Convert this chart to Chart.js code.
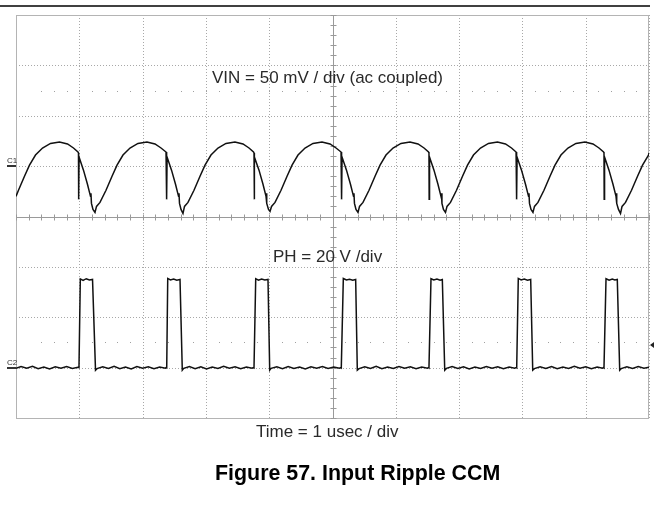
<!DOCTYPE html>
<html><head><meta charset="utf-8">
<script src="https://cdn.jsdelivr.net/npm/chart.js@4.4.1/dist/chart.umd.min.js"></script>
<style>html,body{margin:0;padding:0;background:#fff;}#wrap{width:654px;height:507px;position:relative;}</style>
</head><body><div id="wrap"><canvas id="c" width="654" height="507"></canvas></div>
<script>
// ---- Data ----
// Time in microseconds (1 us / div, 10 divisions)
const vinTimeUs = [
  0, 0.039, 0.134, 0.213, 0.308, 0.419, 0.545, 0.687, 0.814, 0.908, 0.979,
  0.987, 0.990, 0.996, 1.066, 1.129, 1.177, 1.184, 1.192, 1.216,
  1.248, 1.272, 1.327, 1.422, 1.517, 1.596, 1.690, 1.801, 1.927, 2.069, 2.196, 2.291, 2.370,
  2.378, 2.381, 2.387, 2.457, 2.520, 2.568, 2.575, 2.583, 2.607,
  2.638, 2.662, 2.717, 2.812, 2.907, 2.986, 3.080, 3.191, 3.317, 3.459, 3.586, 3.681, 3.752,
  3.760, 3.763, 3.769, 3.839, 3.902, 3.950, 3.957, 3.965, 3.989,
  4.013, 4.037, 4.092, 4.187, 4.282, 4.361, 4.455, 4.566, 4.692, 4.834, 4.961, 5.056, 5.135,
  5.142, 5.145, 5.151, 5.221, 5.284, 5.332, 5.339, 5.347, 5.371,
  5.403, 5.427, 5.482, 5.577, 5.672, 5.751, 5.845, 5.956, 6.082, 6.224, 6.351, 6.446, 6.517,
  6.524, 6.527, 6.533, 6.603, 6.666, 6.714, 6.721, 6.729, 6.753,
  6.785, 6.809, 6.864, 6.959, 7.054, 7.133, 7.227, 7.338, 7.464, 7.606, 7.733, 7.828, 7.900,
  7.907, 7.910, 7.916, 7.986, 8.049, 8.097, 8.104, 8.112, 8.136,
  8.167, 8.191, 8.246, 8.341, 8.436, 8.515, 8.609, 8.720, 8.846, 8.988, 9.115, 9.210, 9.282,
  9.289, 9.292, 9.298, 9.368, 9.431, 9.479, 9.486, 9.494, 9.518,
  9.550, 9.574, 9.629, 9.724, 9.819, 9.898, 9.992, 10.0
];
// VIN ripple in mV (50 mV / div, ac coupled)
const vinMv = [
  -30, -24, -10, 1, 11, 18, 22.5, 24, 22, 18, 14,
  13, -33, 9, -4, -18, -30, -27, -37, -43,
  -46, -40, -36, -24, -10, 1, 11, 18, 22.5, 24, 22, 18, 14,
  13, -33, 9, -4, -18, -30, -27, -37, -43,
  -47, -40, -36, -24, -10, 1, 11, 18, 22.5, 24, 22, 18, 14,
  13, -33, 9, -4, -18, -30, -27, -37, -43,
  -45, -40, -36, -24, -10, 1, 11, 18, 22.5, 24, 22, 18, 14,
  13, -33, 9, -4, -18, -30, -27, -37, -43,
  -46, -40, -36, -24, -10, 1, 11, 18, 22.5, 24, 22, 18, 14,
  13, -33, 9, -4, -18, -30, -27, -37, -43,
  -46, -40, -36, -24, -10, 1, 11, 18, 22.5, 24, 22, 18, 14,
  13, -33, 9, -4, -18, -30, -27, -37, -43,
  -46, -40, -36, -24, -10, 1, 11, 18, 22.5, 24, 22, 18, 14,
  13, -33, 9, -4, -18, -30, -27, -37, -43,
  -47, -40, -36, -24, -10, 1, 11, 13
];
const phTimeUs = [
  0, 0.08, 0.17, 0.26, 0.35, 0.44, 0.53, 0.62, 0.71, 0.80, 0.89, 0.98,
  0.995, 1.016, 1.06, 1.11, 1.16, 1.209, 1.256,
  1.28, 1.37, 1.46, 1.55, 1.64, 1.73, 1.82, 1.91, 2.00, 2.09, 2.18, 2.27, 2.36, 2.375,
  2.381, 2.397, 2.44, 2.49, 2.54, 2.591, 2.627,
  2.65, 2.74, 2.83, 2.92, 3.01, 3.10, 3.19, 3.28, 3.37, 3.46, 3.55, 3.64, 3.73, 3.755,
  3.760, 3.787, 3.83, 3.88, 3.93, 3.981, 4.008,
  4.03, 4.12, 4.21, 4.30, 4.39, 4.48, 4.57, 4.66, 4.75, 4.84, 4.93, 5.02, 5.11, 5.135,
  5.139, 5.171, 5.22, 5.27, 5.32, 5.366, 5.392,
  5.42, 5.51, 5.60, 5.69, 5.78, 5.87, 5.96, 6.05, 6.14, 6.23, 6.32, 6.41, 6.50, 6.52,
  6.524, 6.556, 6.60, 6.65, 6.70, 6.735, 6.773,
  6.80, 6.89, 6.98, 7.07, 7.16, 7.25, 7.34, 7.43, 7.52, 7.61, 7.70, 7.79, 7.88, 7.905,
  7.910, 7.935, 7.98, 8.03, 8.08, 8.131, 8.163,
  8.19, 8.28, 8.37, 8.46, 8.55, 8.64, 8.73, 8.82, 8.91, 9.00, 9.09, 9.18, 9.27, 9.285,
  9.289, 9.321, 9.37, 9.42, 9.46, 9.499, 9.537,
  9.56, 9.65, 9.74, 9.83, 9.92, 10.0
];
// PH switch node in volts (20 V / div)
const phVolts = [
  -0.3, 0.4, -0.2, 0.5, -0.4, 0.2, -0.5, 0.3, -0.2, 0.4, -0.3, 0.1,
  0, 35.2, 34.6, 35.3, 34.8, 35.0, -1.0,
  -0.4, 0.3, -0.3, 0.5, -0.4, 0.2, -0.5, 0.4, -0.2, 0.3, -0.4, 0.2, -0.2, 0.1,
  0, 35.4, 34.8, 35.2, 34.7, 35.0, -1.0,
  -0.3, 0.4, -0.4, 0.3, -0.5, 0.2, -0.3, 0.5, -0.2, 0.3, -0.4, 0.2, -0.2, 0.1,
  0, 35.3, 34.7, 35.2, 34.8, 35.0, -1.0,
  -0.3, 0.3, -0.4, 0.4, -0.3, 0.2, -0.5, 0.3, -0.2, 0.4, -0.3, 0.2, -0.2, 0.1,
  0, 35.4, 34.8, 35.1, 34.7, 35.0, -1.0,
  -0.4, 0.3, -0.3, 0.5, -0.4, 0.2, -0.3, 0.4, -0.2, 0.3, -0.4, 0.2, -0.2, 0.1,
  0, 35.3, 34.8, 35.2, 34.7, 35.0, -1.0,
  -0.3, 0.4, -0.3, 0.3, -0.5, 0.2, -0.3, 0.4, -0.2, 0.3, -0.4, 0.2, -0.2, 0.1,
  0, 35.4, 34.8, 35.2, 34.7, 35.0, -1.0,
  -0.4, 0.3, -0.3, 0.4, -0.4, 0.2, -0.3, 0.5, -0.2, 0.3, -0.4, 0.2, -0.2, 0.1,
  0, 35.3, 34.7, 35.2, 34.8, 35.0, -1.0,
  -0.4, 0.3, -0.3, 0.4, -0.2, 0.2
];
// Screen graticule (divisions)
const timeGridUs = [0,1,2,3,4,5,6,7,8,9,10];
const vinGridMv = [-250,-200,-150,-100,-50,0,50,100,150];
const labels = {
  vin: 'VIN = 50 mV / div (ac coupled)',
  ph: 'PH = 20 V /div',
  time: 'Time = 1 usec / div',
  title: 'Figure 57. Input Ripple CCM'
};

const toPts = (xs, ys) => xs.map((x, i) => ({x, y: ys[i]}));

const scopePlugin = {
  id: 'scope',
  beforeDatasetsDraw(chart) {
    const {ctx, chartArea: a, scales} = chart;
    const xs = scales.x, yv = scales.yVin;
    ctx.save();
    ctx.strokeStyle = '#a8a8a8'; ctx.lineWidth = 1; ctx.setLineDash([1, 2]);
    timeGridUs.forEach(t => {
      const px = Math.round(xs.getPixelForValue(t)) + 0.5;
      ctx.beginPath(); ctx.moveTo(px, a.top); ctx.lineTo(px, a.bottom); ctx.stroke();
    });
    vinGridMv.forEach(v => {
      const py = Math.round(yv.getPixelForValue(v)) + 0.5;
      ctx.beginPath(); ctx.moveTo(a.left, py); ctx.lineTo(a.right, py); ctx.stroke();
    });
    ctx.setLineDash([]);
    ctx.strokeStyle = '#b4b4b4';
    ctx.strokeRect(Math.round(a.left) + 0.5, Math.round(a.top) + 0.5, Math.round(a.right - a.left) - 1, Math.round(a.bottom - a.top));
    const cx = Math.round(xs.getPixelForValue(5)) + 0.5;
    const cy = Math.round(yv.getPixelForValue(-50)) + 0.5;
    ctx.strokeStyle = '#9a9a9a';
    ctx.beginPath(); ctx.moveTo(a.left, cy); ctx.lineTo(a.right, cy); ctx.stroke();
    ctx.beginPath(); ctx.moveTo(cx, a.top); ctx.lineTo(cx, a.bottom); ctx.stroke();
    ctx.beginPath();
    for (let t = 0; t <= 10.001; t += 0.2) {
      const px = Math.round(xs.getPixelForValue(t)) + 0.5;
      ctx.moveTo(px, cy - 3); ctx.lineTo(px, cy + 3);
    }
    for (let v = -250; v <= 150.001; v += 10) {
      const py = Math.round(yv.getPixelForValue(v)) + 0.5;
      ctx.moveTo(cx - 3, py); ctx.lineTo(cx + 3, py);
    }
    ctx.stroke();
    ctx.fillStyle = '#a0a0a0';
    [75, -175].forEach(v => {
      const py = Math.round(yv.getPixelForValue(v));
      for (let t = 0.4; t < 10; t += 0.2) {
        const px = Math.round(xs.getPixelForValue(t));
        if (Math.abs(t - 5) < 0.01) continue;
        ctx.fillRect(px, py, 1, 1);
      }
    });
    ctx.restore();
  },
  afterDraw(chart) {
    const {ctx, scales} = chart;
    ctx.save();
    ctx.strokeStyle = '#000'; ctx.lineWidth = 1.5;
    ctx.beginPath(); ctx.moveTo(0, 6); ctx.lineTo(650, 6); ctx.stroke();
    const c1 = Math.round(scales.yVin.getPixelForValue(0));
    const c2 = Math.round(scales.yPh.getPixelForValue(0));
    ctx.fillStyle = '#333';
    ctx.fillRect(7, c1 - 1, 9, 2);
    ctx.fillRect(7, c2 - 1, 9, 2);
    ctx.font = '8px "Liberation Sans", Arial, sans-serif';
    ctx.textBaseline = 'alphabetic';
    ctx.fillText('C1', 7, c1 - 3);
    ctx.fillText('C2', 7, c2 - 3);
    const tl = scales.yPh.getPixelForValue(9);
    ctx.fillStyle = '#222';
    ctx.beginPath(); ctx.moveTo(650, tl); ctx.lineTo(654, tl - 3); ctx.lineTo(654, tl + 3); ctx.closePath(); ctx.fill();
    ctx.fillStyle = '#2a2a2a';
    ctx.font = '17px "Liberation Sans", Arial, sans-serif';
    ctx.fillText(labels.vin, 212, 83);
    ctx.fillText(labels.ph, 273, 261.5);
    ctx.fillText(labels.time, 256, 437);
    ctx.fillStyle = '#000';
    ctx.font = 'bold 21.4px "Liberation Sans", Arial, sans-serif';
    ctx.fillText(labels.title, 215, 479.5);
    ctx.restore();
  }
};

new Chart(document.getElementById('c'), {
  type: 'scatter',
  data: {
    datasets: [
      {label: 'VIN', data: toPts(vinTimeUs, vinMv), yAxisID: 'yVin', showLine: true,
       borderColor: '#111', borderWidth: 1.5, pointRadius: 0, tension: 0},
      {label: 'PH', data: toPts(phTimeUs, phVolts), yAxisID: 'yPh', showLine: true,
       borderColor: '#111', borderWidth: 1.5, pointRadius: 0, tension: 0}
    ]
  },
  options: {
    responsive: false, animation: false, devicePixelRatio: 1,
    layout: {padding: {left: 16, right: 5, top: 15, bottom: 89}},
    plugins: {legend: {display: false}, tooltip: {enabled: false}},
    scales: {
      x: {type: 'linear', min: 0, max: 10, display: false},
      yVin: {type: 'linear', min: -250, max: 150, display: false},
      yPh: {type: 'linear', min: -20, max: 140, display: false}
    }
  },
  plugins: [scopePlugin]
});
</script></body></html>
